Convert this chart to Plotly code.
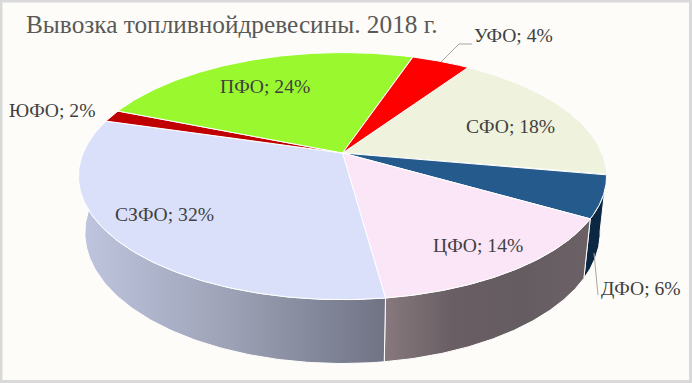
import numpy as np
import plotly.graph_objects as go

# Data (clockwise from the СФО slice)
categories = ["СФО", "ДФО", "ЦФО", "СЗФО", "ЮФО", "ПФО", "УФО"]
values = [18.3, 5.6, 14.5, 31.7, 1.6, 24.0, 4.3]
title_text = "Вывозка топливнойдревесины. 2018 г."

# Styles
top_colors = ["#eff2dc", "#255b8c", "#fbe6f8", "#dbe0fa", "#c00000", "#99f92e", "#ff0000"]
wall_stops = [
    ["#8f917f", "#8f917f"],
    ["#0c2741", "#0c2741"],
    ["#87797d", "#685e63", "#655c62", "#6b6165"],
    ["#bfc6df", "#9ca1b5", "#6f7384"],
    ["#600000", "#600000"],
    ["#5c9a1c", "#5c9a1c"],
    ["#a00000", "#a00000"],
]
BG = "#fdfcf8"
EDGE = "#d9d9d9"
FONT = "Liberation Serif"

# Projection of the disc: perspective tilt, lower rim shifted in depth
X0, Y0, A, B, K, DZ, DROP = 342.5, 153.0, 259.4, 119.2, 0.187, 0.024, 57.0
START_DEG = 34.0


def rim(theta_deg, lower=False):
    t = np.radians(theta_deg)
    u, v = np.sin(t), np.cos(t)
    w = 1 + K * v + (DZ if lower else 0)
    d = DROP if lower else 0
    return X0 + A * u / w, Y0 - (B * v - d) / w


fractions = np.array(values) / sum(values)
edges = START_DEG + 360 * np.concatenate([[0], np.cumsum(fractions)])

fig = go.Figure()

# Side walls first; the top discs cover what faces away
for i, cat in enumerate(categories):
    th = np.linspace(edges[i], edges[i + 1], 120)
    x1, y1 = rim(th)
    x2, y2 = rim(th[::-1], lower=True)
    stops = wall_stops[i]
    scale = [[j / (len(stops) - 1), c] for j, c in enumerate(stops)]
    fig.add_trace(go.Scatter(
        x=np.r_[x1, x2, x1[0]], y=np.r_[y1, y2, y1[0]], mode="lines",
        fill="toself", fillcolor=stops[0],
        fillgradient=dict(type="horizontal", colorscale=scale),
        line=dict(color="white", width=1), hoverinfo="skip", showlegend=False,
    ))

# Top slices
for i, cat in enumerate(categories):
    th = np.linspace(edges[i], edges[i + 1], 120)
    x1, y1 = rim(th)
    fig.add_trace(go.Scatter(
        x=np.r_[X0, x1, X0], y=np.r_[Y0, y1, Y0], mode="lines",
        fill="toself", fillcolor=top_colors[i],
        line=dict(color="white", width=1), hoverinfo="skip", showlegend=False,
    ))

# Leader lines
for lx, ly in [([441, 459, 472], [62, 44, 44]), ([594, 598], [253, 295])]:
    fig.add_trace(go.Scatter(x=lx, y=ly, mode="lines", line=dict(color="#a6a6a6", width=1),
                             hoverinfo="skip", showlegend=False))

label_centers = [(510, 126), (641, 288), (478, 245), (164, 214), (52, 110), (265, 86), (513, 35)]
annotations = [
    dict(x=lx, y=ly, xref="x", yref="y", showarrow=False,
         text=f"{c}; {round(v)}%", font=dict(family=FONT, size=19.6, color="#404040"))
    for c, v, (lx, ly) in zip(categories, values, label_centers)
]
annotations.append(dict(x=24, y=24, xref="x", yref="y", xanchor="left", showarrow=False,
                        text=title_text, font=dict(family=FONT, size=25.3, color="#595959")))

fig.update_layout(
    width=692, height=383, margin=dict(l=0, r=0, t=0, b=0),
    paper_bgcolor=BG, plot_bgcolor=BG, showlegend=False,
    xaxis=dict(range=[0, 692], visible=False, fixedrange=True),
    yaxis=dict(range=[383, 0], visible=False, fixedrange=True),
    annotations=annotations,
    shapes=[dict(type="rect", xref="x", yref="y", x0=1, y0=1, x1=690.5, y1=381.5,
                 line=dict(color=EDGE, width=3), layer="above")],
)
fig.write_html(
    "out.html",
    config={"displayModeBar": False},
    post_script="document.body.style.margin='0';document.body.style.overflow='hidden';"
                "document.documentElement.style.overflow='hidden';",
)
